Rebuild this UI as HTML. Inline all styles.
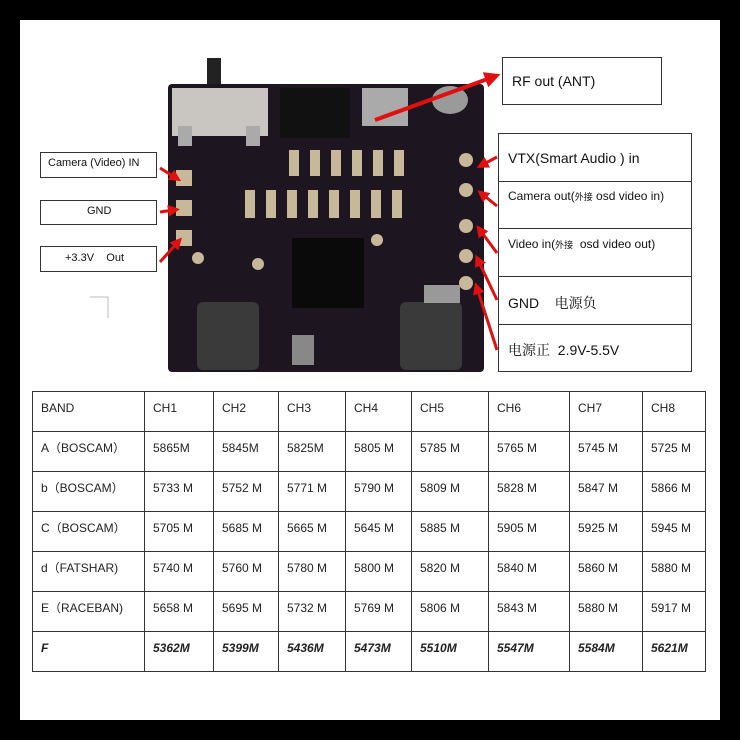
<!DOCTYPE html>
<html><head><meta charset="utf-8"><style>
body{margin:0;width:740px;height:740px;background:#000;position:relative;overflow:hidden;font-family:"Liberation Sans","Noto Sans CJK SC",sans-serif;}
.w{position:absolute;left:20px;top:20px;width:700px;height:700px;background:#fff;}
.b{position:absolute;border:1px solid #333;background:#fff;font-size:12px;color:#111;box-sizing:border-box;}
table{position:absolute;left:32px;top:391px;border-collapse:collapse;font-size:12px;color:#222;}
td{border:1px solid #333;height:40px;padding:0 0 8px 8px;box-sizing:border-box;vertical-align:middle;}
tr.f td{font-weight:bold;font-style:italic;}
</style></head><body>
<div class="w"></div>
<svg style="position:absolute;left:0;top:0" width="740" height="740">
<defs><marker id="a" markerWidth="4" markerHeight="4" refX="2" refY="2" orient="auto"><path d="M0,0 L4,2 L0,4 z" fill="#e01010"/></marker></defs>
<rect x="207" y="58" width="14" height="30" fill="#222"/>
<rect x="168" y="84" width="316" height="288" rx="4" fill="#1d1620"/>
<rect x="172" y="88" width="96" height="48" fill="#c9c6c1"/>
<rect x="178" y="126" width="14" height="20" fill="#aaa"/><rect x="246" y="126" width="14" height="20" fill="#aaa"/>
<rect x="280" y="88" width="70" height="50" fill="#111"/>
<rect x="362" y="88" width="46" height="38" fill="#aaa"/>
<ellipse cx="450" cy="100" rx="18" ry="14" fill="#9a9a9a"/>
<g fill="#c8b89a"><rect x="289" y="150" width="10" height="26"/><rect x="310" y="150" width="10" height="26"/><rect x="331" y="150" width="10" height="26"/><rect x="352" y="150" width="10" height="26"/><rect x="373" y="150" width="10" height="26"/><rect x="394" y="150" width="10" height="26"/>
<rect x="245" y="190" width="10" height="28"/><rect x="266" y="190" width="10" height="28"/><rect x="287" y="190" width="10" height="28"/><rect x="308" y="190" width="10" height="28"/><rect x="329" y="190" width="10" height="28"/><rect x="350" y="190" width="10" height="28"/><rect x="371" y="190" width="10" height="28"/><rect x="392" y="190" width="10" height="28"/>
<rect x="176" y="170" width="16" height="16"/><rect x="176" y="200" width="16" height="16"/><rect x="176" y="230" width="16" height="16"/>
<circle cx="466" cy="160" r="7"/><circle cx="466" cy="190" r="7"/><circle cx="466" cy="226" r="7"/><circle cx="466" cy="256" r="7"/><circle cx="466" cy="283" r="7"/>
<circle cx="198" cy="258" r="6"/><circle cx="258" cy="264" r="6"/><circle cx="377" cy="240" r="6"/></g>
<rect x="292" y="238" width="72" height="70" fill="#0a0a0a"/>
<rect x="197" y="302" width="62" height="68" rx="6" fill="#3a3a3a"/>
<rect x="400" y="302" width="62" height="68" rx="6" fill="#3a3a3a"/>
<rect x="292" y="335" width="22" height="30" fill="#888"/>
<rect x="424" y="285" width="36" height="18" fill="#999"/>
<g stroke="#e01010" stroke-width="3" fill="none" marker-end="url(#a)">
<line x1="375" y1="120" x2="493" y2="77" stroke-width="4"/>
<line x1="160" y1="168" x2="176" y2="178"/><line x1="160" y1="212" x2="174" y2="210"/><line x1="160" y1="262" x2="178" y2="242"/>
<line x1="497" y1="157" x2="482" y2="165"/><line x1="497" y1="206" x2="482" y2="194"/><line x1="497" y1="253" x2="480" y2="230"/><line x1="497" y1="300" x2="478" y2="260"/><line x1="497" y1="350" x2="477" y2="288"/>
</g>
<polyline points="90,297 108,297 108,318" fill="none" stroke="#bbb" stroke-width="1"/>
</svg>
<div class="b" style="left:502px;top:57px;width:160px;height:48px;font-size:14px;padding:15px 0 0 9px">RF out (ANT)</div>
<div class="b" style="left:40px;top:152px;width:117px;height:26px;padding:4px 0 0 7px;font-size:11px">Camera (Video) IN</div>
<div class="b" style="left:40px;top:200px;width:117px;height:25px;padding:4px 0 0 46px;font-size:11px">GND</div>
<div class="b" style="left:40px;top:246px;width:117px;height:26px;padding:5px 0 0 24px;font-size:11px">+3.3V &nbsp;&nbsp; Out</div>
<div class="b" style="left:498px;top:133px;width:194px;height:49px;padding:16px 0 0 9px;font-size:14px">VTX(Smart Audio ) in</div>
<div class="b" style="left:498px;top:181px;width:194px;height:48px;padding:7px 0 0 9px;font-size:12px">Camera out(<span style="font-size:9px">外接</span> osd video in)</div>
<div class="b" style="left:498px;top:228px;width:194px;height:49px;padding:8px 0 0 9px;font-size:12px">Video in(<span style="font-size:9px">外接</span>&nbsp; osd video out)</div>
<div class="b" style="left:498px;top:276px;width:194px;height:49px;padding:16px 0 0 9px;font-size:14px">GND &nbsp;&nbsp; <span style="font-family:'Noto Serif CJK SC',serif">电源负</span></div>
<div class="b" style="left:498px;top:324px;width:194px;height:48px;padding:15px 0 0 9px;font-size:14px"><span style="font-family:'Noto Serif CJK SC',serif">电源正</span>&nbsp; 2.9V-5.5V</div>
<table>
<colgroup><col style="width:112px"><col style="width:69px"><col style="width:65px"><col style="width:67px"><col style="width:66px"><col style="width:77px"><col style="width:81px"><col style="width:73px"><col style="width:63px"></colgroup>
<tr><td>BAND</td><td>CH1</td><td>CH2</td><td>CH3</td><td>CH4</td><td>CH5</td><td>CH6</td><td>CH7</td><td>CH8</td></tr>
<tr><td>A（BOSCAM）</td><td>5865M</td><td>5845M</td><td>5825M</td><td>5805 M</td><td>5785 M</td><td>5765 M</td><td>5745 M</td><td>5725 M</td></tr>
<tr><td>b（BOSCAM）</td><td>5733 M</td><td>5752 M</td><td>5771 M</td><td>5790 M</td><td>5809 M</td><td>5828 M</td><td>5847 M</td><td>5866 M</td></tr>
<tr><td>C（BOSCAM）</td><td>5705 M</td><td>5685 M</td><td>5665 M</td><td>5645 M</td><td>5885 M</td><td>5905 M</td><td>5925 M</td><td>5945 M</td></tr>
<tr><td>d（FATSHAR)</td><td>5740 M</td><td>5760 M</td><td>5780 M</td><td>5800 M</td><td>5820 M</td><td>5840 M</td><td>5860 M</td><td>5880 M</td></tr>
<tr><td>E（RACEBAN)</td><td>5658 M</td><td>5695 M</td><td>5732 M</td><td>5769 M</td><td>5806 M</td><td>5843 M</td><td>5880 M</td><td>5917 M</td></tr>
<tr class="f"><td>F</td><td>5362M</td><td>5399M</td><td>5436M</td><td>5473M</td><td>5510M</td><td>5547M</td><td>5584M</td><td>5621M</td></tr>
</table>
</body></html>
